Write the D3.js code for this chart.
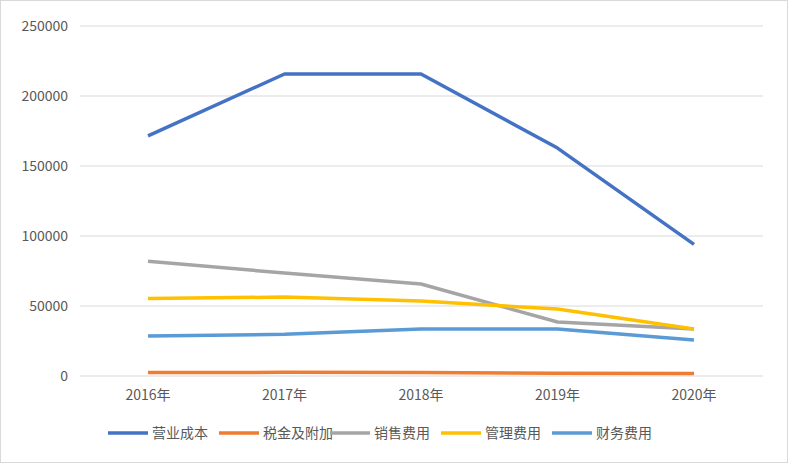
<!DOCTYPE html><html><head><meta charset="utf-8">
<script src="https://cdn.jsdelivr.net/npm/d3@7"></script>
<style>body{margin:0;background:#fff}</style></head><body>
<svg id="c" width="788" height="466"></svg>
<script>
const years=["2016年","2017年","2018年","2019年","2020年"];
const names=["营业成本","税金及附加","销售费用","管理费用","财务费用"];
const colors=["#4472C4","#ED7D31","#A5A5A5","#FFC000","#5B9BD5"];
const s0=[171500,215700,215700,162800,94000];
const s1=[2500,2600,2500,2000,1800];
const s2=[82000,73500,65700,38600,33600];
const s3=[55300,56400,53500,47800,33600];
const s4=[28600,29800,33600,33600,25700];
const series=[s0,s1,s2,s3,s4];
const ticks=[0,50000,100000,150000,200000,250000];
const svg=d3.select("#c");
svg.append("rect").attr("x",0.5).attr("y",0.5).attr("width",787).attr("height",462).attr("fill","#fff").attr("stroke","#D9D9D9");
const x=d3.scalePoint().domain(years).range([148,694]);
const y=d3.scaleLinear().domain([0,250000]).range([376,26]);
const f="'Noto Sans CJK SC','Liberation Sans',sans-serif";
svg.append("g").selectAll("line").data(ticks).join("line").attr("x1",80).attr("x2",763)
 .attr("y1",d=>y(d)).attr("y2",d=>y(d)).attr("stroke","#D9D9D9");
svg.append("g").selectAll("text").data(ticks).join("text").attr("x",68).attr("y",d=>y(d)+5)
 .attr("text-anchor","end").attr("font-family",f).attr("font-size",14).attr("fill","#595959").text(d=>d);
svg.append("g").selectAll("text").data(years).join("text").attr("x",d=>x(d)).attr("y",400)
 .attr("text-anchor","middle").attr("font-family",f).attr("font-size",14).attr("fill","#595959").text(d=>d);
const line=d3.line().x((d,i)=>x(years[i])).y(d=>y(d));
series.forEach((s,i)=>svg.append("path").attr("d",line(s)).attr("fill","none").attr("stroke",colors[i]).attr("stroke-width",3.5).attr("stroke-linejoin","round"));
const lx=[108,219,330,441,552];
names.forEach((n,i)=>{
 svg.append("line").attr("x1",lx[i]).attr("x2",lx[i]+40).attr("y1",433).attr("y2",433).attr("stroke",colors[i]).attr("stroke-width",3.5);
 svg.append("text").attr("x",lx[i]+44).attr("y",438).attr("font-family",f).attr("font-size",14).attr("fill","#595959").text(n);
});
</script></body></html>
